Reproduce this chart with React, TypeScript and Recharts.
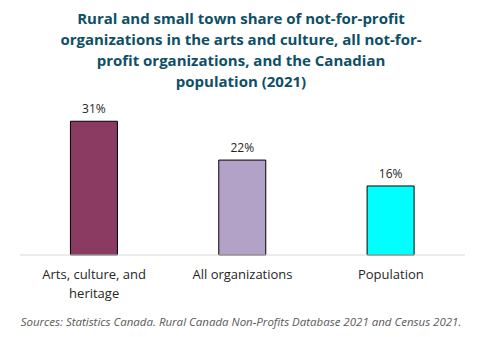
import { BarChart, Bar, XAxis, YAxis, Cell, LabelList, Text } from 'recharts';

const categories = ['Arts, culture, and heritage', 'All organizations', 'Population'];
const shares = [31, 22, 16];
const barColors = ['#8b3a62', '#b3a2c7', '#00ffff'];
const titleLines = [
  'Rural and small town share of not-for-profit',
  'organizations in the arts and culture, all not-for-',
  'profit organizations, and the Canadian',
  'population (2021)',
];
const source = 'Sources: Statistics Canada. Rural Canada Non-Profits Database 2021 and Census 2021.';

const data = categories.map((name, i) => ({ name, share: shares[i] }));

const font = '"Open Sans", "Noto Sans", sans-serif';

function CategoryTick(props: any) {
  const { x, y, payload } = props;
  return (
    <Text
      x={x}
      y={y + 7}
      width={135}
      textAnchor='middle'
      verticalAnchor='start'
      lineHeight={19}
      fontSize={13}
      fontFamily={font}
      fill='#262626'
    >
      {payload.value}
    </Text>
  );
}

export default function App() {
  return (
    <div
      style={{
        position: 'fixed',
        left: 0,
        top: 0,
        width: 482,
        height: 337,
        background: '#fff',
        fontFamily: font,
      }}
    >
      <div
        style={{
          position: 'absolute',
          top: 8,
          left: 0,
          width: 482,
          textAlign: 'center',
          color: '#0e4f66',
          fontWeight: 700,
          fontSize: 15,
          lineHeight: '21px',
        }}
      >
        {titleLines.map((l) => (
          <div key={l}>{l}</div>
        ))}
      </div>
      <div style={{ position: 'absolute', top: 0, left: 0 }}>
        <BarChart
          width={482}
          height={337}
          data={data}
          margin={{ top: 104, right: 17, bottom: 0, left: 20 }}
          barCategoryGap='34%'
        >
          <XAxis
            dataKey='name'
            axisLine={{ stroke: '#d9d9d9' }}
            tickLine={false}
            interval={0}
            tick={<CategoryTick />}
            height={82}
          />
          <YAxis hide domain={[0, 35]} />
          <Bar dataKey='share' stroke='#000' strokeWidth={1} isAnimationActive={false}>
            {data.map((d, i) => (
              <Cell key={d.name} fill={barColors[i]} />
            ))}
            <LabelList
              dataKey='share'
              position='top'
              offset={8}
              formatter={(v: any) => `${v}%`}
              style={{ fontSize: 12, fontFamily: font, fill: '#262626' }}
            />
          </Bar>
        </BarChart>
      </div>
      <div
        style={{
          position: 'absolute',
          top: 314,
          left: 0,
          width: 482,
          textAlign: 'center',
          fontStyle: 'italic',
          fontSize: 11.5,
          color: '#595959',
        }}
      >
        {source}
      </div>
    </div>
  );
}
